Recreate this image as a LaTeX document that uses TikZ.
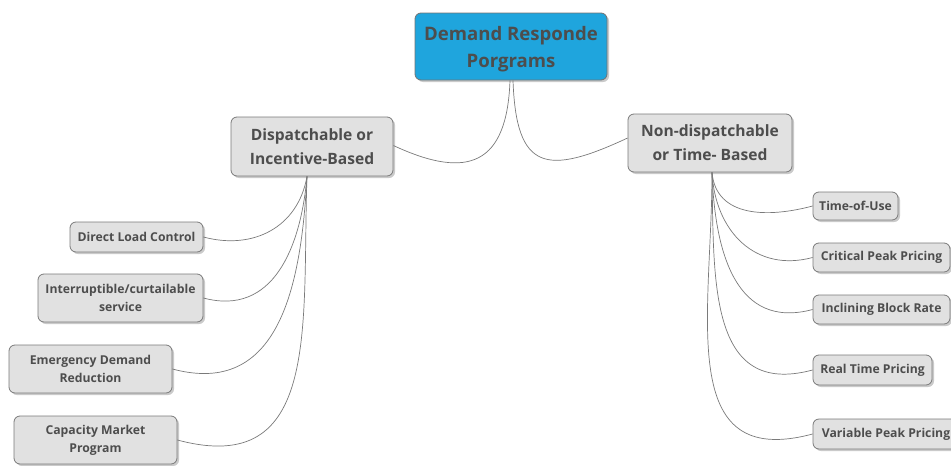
\documentclass[tikz,border=0pt]{standalone}
\usepackage{fontspec}
\setmainfont{Open Sans}
\usepackage{xcolor}
\usepackage{tikz}
\usetikzlibrary{shadows}

\definecolor{rootblue}{HTML}{1FA5DD}
\definecolor{boxgray}{HTML}{E1E1E1}
\definecolor{edgegray}{HTML}{7A7A7A}
\definecolor{textgray}{HTML}{4D4D4D}

\begin{document}
\begin{tikzpicture}[x=1pt, y=-1pt,
    box/.style={draw=edgegray, line width=0.8pt, rounded corners=6pt, fill=boxgray,
        text=textgray, font=\bfseries, align=center, inner sep=0pt,
        drop shadow={shadow xshift=2pt, shadow yshift=-2pt, fill=black!35, opacity=0.6}},
    root/.style={box, fill=rootblue, draw=black!55, font=\fontsize{18.6}{27}\bfseries},
    branch/.style={box, font=\fontsize{15.6}{24}\bfseries},
    leaf/.style={box, font=\fontsize{12.2}{18}\bfseries},
    link/.style={draw=edgegray, line width=0.7pt}]
    \useasboundingbox (0,0) rectangle (951,466);

    % Gốc
    \node[root, minimum width=192pt, minimum height=67pt] (root) at (511,46.5) {\rule{0pt}{19pt}Demand Responde\\Porgrams};

    % Hai nhánh chính
    \node[branch, minimum width=162pt, minimum height=59pt] (bl) at (312,146.5) {Dispatchable or\\Incentive-Based};
    \node[branch, minimum width=164pt, minimum height=58pt] (br) at (710,143) {Non-dispatchable\\or Time- Based};

    % Nhánh trái
    \node[leaf, minimum width=133pt, minimum height=30pt] (l1) at (136.5,237) {Direct Load Control};
    \node[leaf, minimum width=165pt, minimum height=48pt] (l2) at (120.5,298) {Interruptible/curtailable\\service};
    \node[leaf, minimum width=163pt, minimum height=48pt] (l3) at (90.5,369) {Emergency Demand\\Reduction};
    \node[leaf, minimum width=163pt, minimum height=48pt] (l4) at (95.5,440) {Capacity Market\\Program};

    % Nhánh phải
    \node[leaf, minimum width=85pt, minimum height=28pt] (r1) at (855.5,206) {Time-of-Use};
    \node[leaf, minimum width=137pt, minimum height=29pt] (r2) at (881.5,257.5) {Critical Peak Pricing};
    \node[leaf, minimum width=137pt, minimum height=29pt] (r3) at (881.5,309.5) {Inclining Block Rate};
    \node[leaf, minimum width=119pt, minimum height=30pt] (r4) at (872.5,370) {Real Time Pricing};
    \node[leaf, minimum width=146pt, minimum height=30pt] (r5) at (886,434) {Variable Peak Pricing};

    % Các đường nối
    \begin{scope}[every path/.style={link}]
    \draw ([xshift=-1pt]root.south) to[out=-92, in=-25, looseness=1.6] ([yshift=1pt]bl.east);
    \draw ([xshift=2pt]root.south) to[out=-88, in=-155, looseness=1.8] ([yshift=5pt]br.east -| br.west);

    \draw ([xshift=-5pt]bl.south) to[out=-100, in=-15, looseness=1.1] (l1.east);
    \draw ([xshift=-5pt]bl.south) to[out=-95, in=-15, looseness=1.15] (l2.east);
    \draw ([xshift=-5pt]bl.south) to[out=-93, in=-15, looseness=1.2] (l3.east);
    \draw ([xshift=-5pt]bl.south) to[out=-92, in=-15, looseness=1.3] (l4.east);

    \draw ([xshift=2pt]br.south) to[out=-85, in=-165, looseness=1.1] (r1.west);
    \draw ([xshift=2pt]br.south) to[out=-87, in=-165, looseness=1.15] (r2.west);
    \draw ([xshift=2pt]br.south) to[out=-88, in=-165, looseness=1.2] (r3.west);
    \draw ([xshift=2pt]br.south) to[out=-89, in=-165, looseness=1.25] (r4.west);
    \draw ([xshift=2pt]br.south) to[out=-90, in=-165, looseness=1.3] (r5.west);
    \end{scope}
\end{tikzpicture}
\end{document}
